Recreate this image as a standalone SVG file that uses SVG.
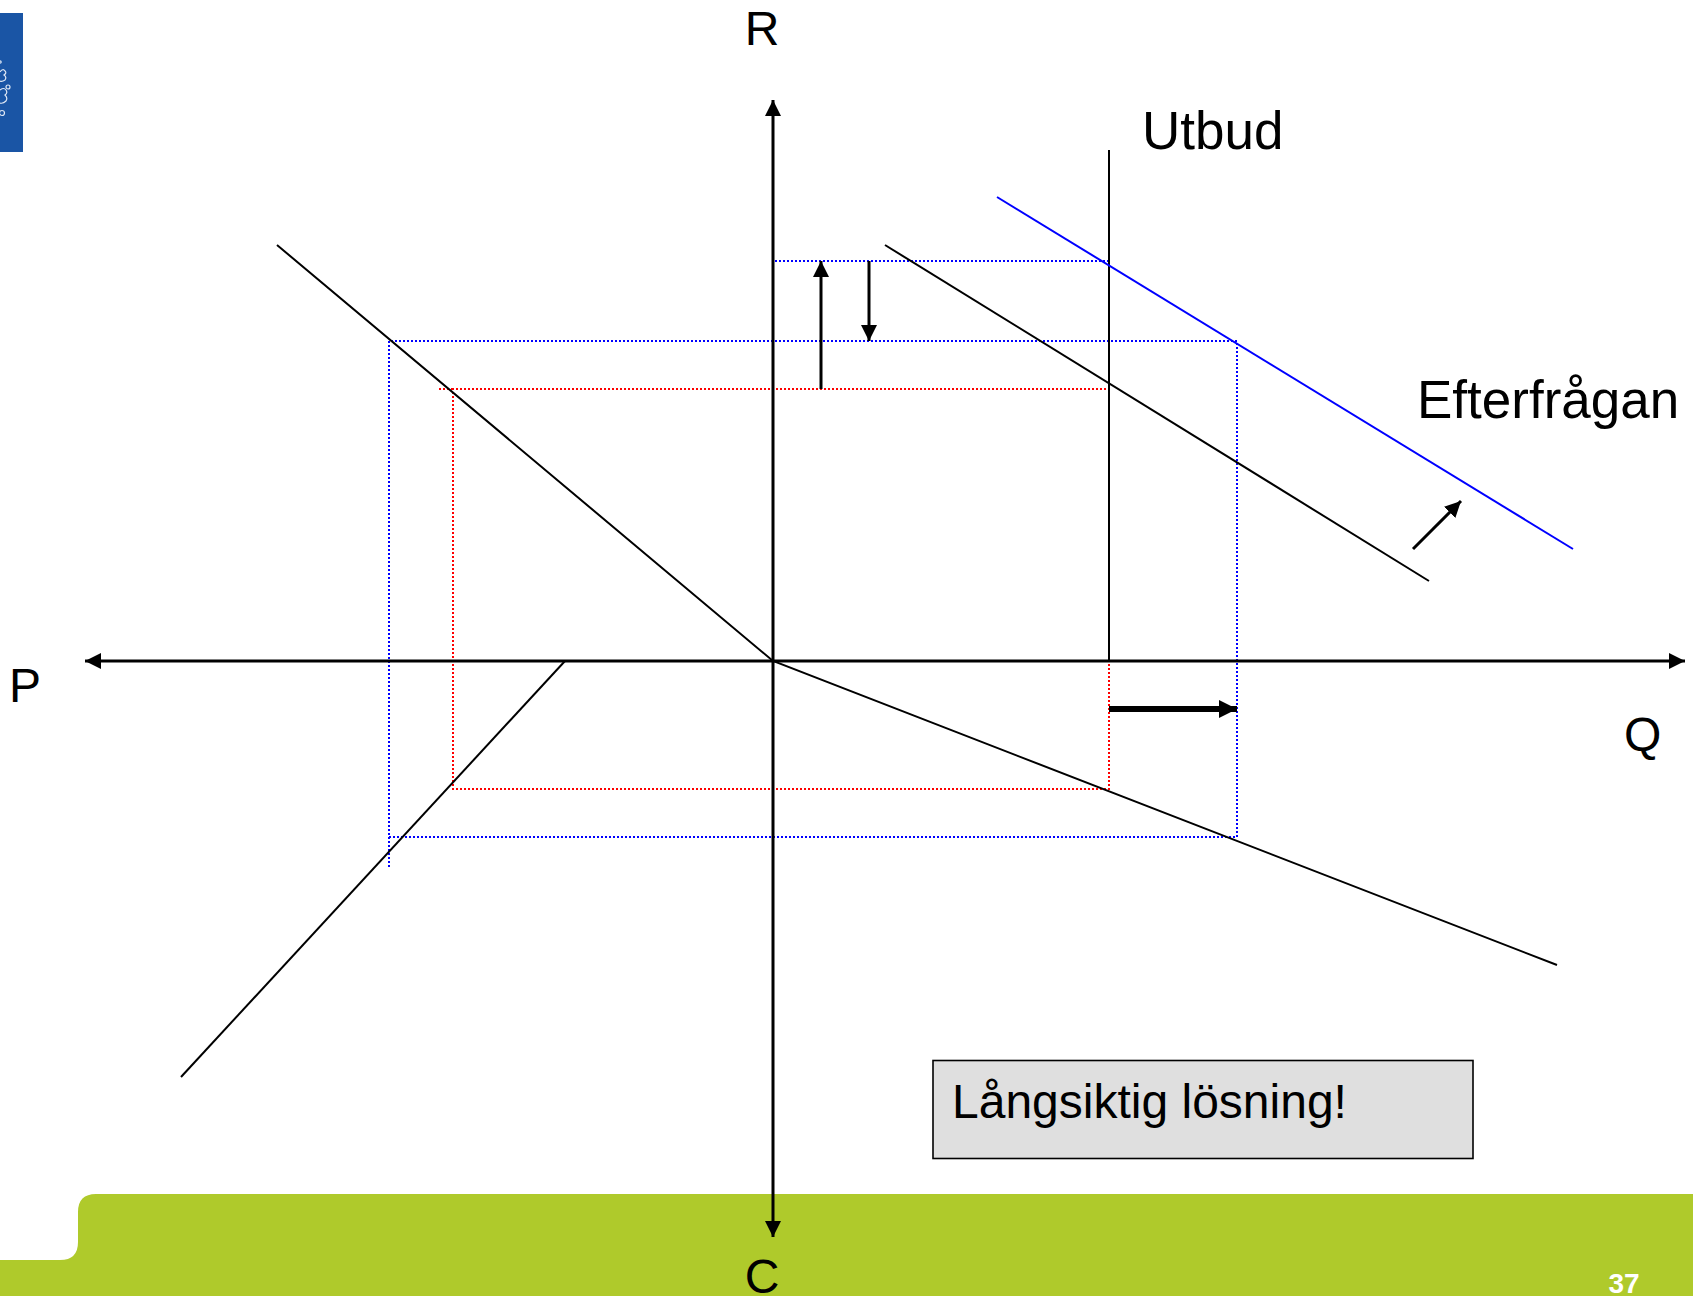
<svg xmlns="http://www.w3.org/2000/svg" width="1693" height="1296" viewBox="0 0 1693 1296">
<style>
text{font-family:"Liberation Sans",Arial,sans-serif;fill:#000}
.lbl{font-size:53px}
.ax-l{font-size:48px}
.ln{fill:none;stroke:#000;stroke-width:2}
.ax{fill:none;stroke:#000;stroke-width:3}
.b{fill:none;stroke:#00f;stroke-width:2;stroke-dasharray:2 2}
.r{fill:none;stroke:#f00;stroke-width:2;stroke-dasharray:2 2}
.leaf{fill:none;stroke:#dfe8f5;stroke-width:1.2}
</style>
<defs>
<marker id="a" markerUnits="userSpaceOnUse" markerWidth="16" markerHeight="16" refX="16" refY="8" orient="auto-start-reverse"><path d="M0 0L16 8L0 16Z" fill="#000"/></marker>
<marker id="a2" markerUnits="userSpaceOnUse" markerWidth="18" markerHeight="18" refX="18" refY="9" orient="auto"><path d="M0 0L18 9L0 18Z" fill="#000"/></marker>
</defs>
<g id="footer"><path d="M1693 1194H96Q78 1194 78 1212V1242Q78 1260 60 1260H0V1296H1693Z" fill="#afca2b"/><text x="1624" y="1293" style="font-size:28px;font-weight:bold;fill:#fff" text-anchor="middle">37</text></g>
<g id="logo"><rect x="0" y="13" width="23" height="139" fill="#1a55a5"/><path class="leaf" d="M0 72Q3 68 5 71Q7 73 4 75Q7 77 5 80Q2 82 0 81M0 90Q4 87 6 90Q8 93 5 95Q8 98 6 101Q3 104 0 103"/><circle class="leaf" cx="8" cy="87" r="2"/><circle class="leaf" cx="2" cy="113" r="2.5"/><circle class="leaf" cx="0" cy="62" r="1.2"/></g>
<g id="connectors">
<path class="r" d="M1109 648V789H453V389H1109"/>
<path class="r" d="M439 389H453"/>
<path class="b" d="M775 261H1109"/>
<path class="b" d="M389 867V341H1237V837H389"/>
<path class="ax" d="M773 1237V100" marker-start="url(#a)" marker-end="url(#a)"/>
<path class="ax" d="M85 661H1685" marker-start="url(#a)" marker-end="url(#a)"/>
<path class="ln" d="M1109 150V661"/>
<path class="ln" style="stroke:#00f" d="M997 197L1573 549"/>
<path class="ln" d="M885 245L1429 581"/>
<path class="ln" d="M277 245L773 661L1557 965"/>
<path class="ln" d="M565 661L181 1077"/>
<path class="ax" d="M821 389V261" marker-end="url(#a)"/>
<path class="ax" d="M869 261V341" marker-end="url(#a)"/>
<path class="ax" style="stroke-width:6" d="M1109 709H1237" marker-end="url(#a2)"/>
<path class="ax" d="M1413 549L1461 501" marker-end="url(#a)"/>
</g>
<g id="box"><rect x="933" y="1060.500" width="540" height="98" fill="#dfdfdf" stroke="#000" stroke-width="1.6"/><text x="952" y="1118" class="ax-l">Långsiktig lösning!</text></g>
<g id="labels">
<text x="762" y="45" class="ax-l" text-anchor="middle">R</text>
<text x="1142" y="149" class="lbl">Utbud</text>
<text x="1417" y="418" class="lbl">Efterfrågan</text>
<text x="9" y="702" class="ax-l">P</text>
<text x="1624" y="751" class="ax-l">Q</text>
<text x="762" y="1293" class="ax-l" text-anchor="middle">C</text>
</g>
</svg>
